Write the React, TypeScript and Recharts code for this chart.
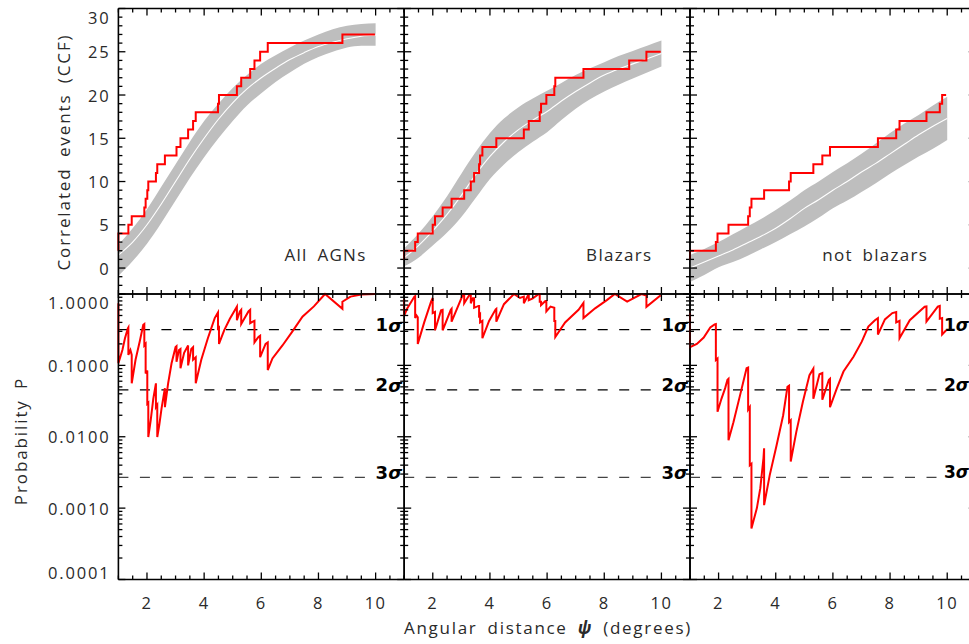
import React from 'react';
import { ComposedChart, Line, Area, XAxis, YAxis, ReferenceLine } from 'recharts';

// ---------------- data ----------------
const bandX = [1, 1.5, 2, 2.5, 3, 3.5, 4, 4.5, 5, 5.5, 6, 6.5, 7, 7.5, 8, 8.5, 9, 9.5, 10];

const agnUpper = [2.7, 4.6, 6.8, 9.4, 12.0, 14.6, 17.0, 19.0, 20.8, 22.3, 23.6, 24.6, 25.5, 26.3, 27.0, 27.6, 28.0, 28.2, 28.3];
const agnMedian = [1.5, 3.0, 5.0, 7.4, 10.0, 12.6, 15.0, 17.2, 19.1, 20.7, 22.0, 23.1, 24.1, 24.9, 25.6, 26.1, 26.5, 26.8, 26.9];
const agnLower = [-0.9, 0.8, 2.8, 5.2, 7.8, 10.4, 12.8, 15.0, 17.0, 18.8, 20.2, 21.5, 22.6, 23.6, 24.4, 25.0, 25.5, 25.7, 25.7];

const blzUpper = [2.3, 4.0, 6.0, 8.3, 10.9, 13.4, 15.6, 17.3, 18.6, 19.6, 20.5, 21.4, 22.3, 23.1, 23.8, 24.5, 25.1, 25.7, 26.3];
const blzMedian = [1.2, 2.6, 4.3, 6.2, 8.4, 10.8, 12.9, 14.6, 16.0, 17.1, 18.1, 19.3, 20.4, 21.4, 22.3, 23.0, 23.6, 24.2, 24.8];
const blzLower = [0.2, 1.2, 2.6, 4.1, 5.9, 8.1, 10.3, 12.0, 13.4, 14.6, 15.7, 17.1, 18.4, 19.5, 20.4, 21.2, 21.9, 22.6, 23.3];

const nbzUpper = [1.5, 2.2, 3.0, 3.9, 4.8, 5.7, 6.7, 7.8, 9.0, 10.0, 11.1, 12.1, 13.2, 14.4, 15.6, 16.7, 17.7, 18.8, 19.8];
const nbzMedian = [0.0, 0.7, 1.4, 2.1, 2.9, 3.7, 4.6, 5.7, 6.9, 7.9, 9.0, 10.0, 11.1, 12.1, 13.2, 14.3, 15.4, 16.4, 17.3];
const nbzLower = [-1.6, -0.8, 0.1, 0.7, 1.4, 2.2, 3.0, 3.9, 4.8, 5.8, 6.9, 7.8, 8.8, 9.8, 10.9, 11.9, 12.9, 13.8, 14.8];

// observed CCF steps: [x, events]
const agnSteps: [number, number][] = [
  [1, 2], [1, 4], [1.349, 5], [1.466, 6], [1.907, 7], [1.953, 8], [2.011, 9], [2.046, 10],
  [2.313, 11], [2.36, 12], [2.627, 13], [3.033, 14], [3.172, 15], [3.439, 16], [3.613, 17],
  [3.706, 18], [4.484, 19], [4.519, 20], [5.146, 21], [5.297, 22], [5.611, 23], [5.761, 24],
  [5.959, 25], [6.226, 26], [8.838, 27], [9.976, 27],
];
const blzSteps: [number, number][] = [
  [1, 1], [1, 2], [1.383, 3], [1.475, 4], [1.997, 5], [2.078, 6], [2.345, 7], [2.658, 8],
  [3.099, 9], [3.33, 10], [3.446, 11], [3.62, 12], [3.655, 13], [3.736, 14], [4.223, 15],
  [5.186, 16], [5.359, 17], [5.742, 18], [5.788, 19], [5.974, 20], [6.252, 21], [6.287, 22],
  [7.272, 23], [8.872, 24], [9.475, 25], [9.974, 25],
];
const nbzSteps: [number, number][] = [
  [1, 1], [1, 2], [1.905, 3], [1.963, 4], [2.347, 5], [3.034, 6], [3.092, 7], [3.15, 8],
  [3.593, 9], [4.466, 10], [4.524, 11], [5.316, 12], [5.63, 13], [5.898, 14], [7.575, 15],
  [8.215, 16], [8.331, 17], [9.274, 18], [9.74, 19], [9.822, 20], [9.962, 20],
];

// chance probability: [x, P]
const agnProb: [number, number][] = [
  [1.0, 0.74], [1.0, 0.107], [1.14, 0.164], [1.23, 0.24], [1.33, 0.33], [1.349, 0.34], [1.349, 0.14],
  [1.42, 0.164], [1.466, 0.14], [1.466, 0.056], [1.6, 0.12], [1.75, 0.22], [1.87, 0.37], [1.907, 0.38],
  [1.907, 0.19], [1.953, 0.2], [1.953, 0.077], [2.011, 0.085], [2.011, 0.029], [2.046, 0.03], [2.046, 0.0099],
  [2.13, 0.017], [2.22, 0.034], [2.313, 0.056], [2.313, 0.026], [2.36, 0.028], [2.36, 0.0099], [2.43, 0.0146],
  [2.51, 0.025], [2.627, 0.048], [2.627, 0.026], [2.74, 0.056], [2.86, 0.107], [3.0, 0.18], [3.033, 0.185],
  [3.033, 0.112], [3.12, 0.164], [3.172, 0.17], [3.172, 0.091], [3.3, 0.15], [3.439, 0.19], [3.439, 0.1],
  [3.55, 0.17], [3.613, 0.18], [3.613, 0.12], [3.706, 0.13], [3.706, 0.056], [3.9, 0.12], [4.13, 0.24],
  [4.37, 0.46], [4.484, 0.55], [4.484, 0.33], [4.519, 0.34], [4.519, 0.2], [4.7, 0.31], [4.9, 0.45],
  [5.146, 0.665], [5.146, 0.43], [5.25, 0.57], [5.297, 0.6], [5.297, 0.38], [5.55, 0.57], [5.611, 0.6],
  [5.611, 0.39], [5.7, 0.41], [5.761, 0.42], [5.761, 0.21], [5.9, 0.25], [5.959, 0.26], [5.959, 0.13],
  [6.15, 0.2], [6.226, 0.21], [6.226, 0.086], [6.39, 0.125], [6.74, 0.19], [7.09, 0.3], [7.44, 0.48],
  [7.84, 0.67], [8.23, 1.0], [8.838, 0.62], [8.838, 0.78], [9.12, 0.92], [9.5, 0.98], [9.976, 1.0],
];
const blzProb: [number, number][] = [
  [1.0, 0.85], [1.0, 0.5], [1.1, 0.62], [1.36, 0.92], [1.383, 0.93], [1.383, 0.46], [1.43, 0.5],
  [1.475, 0.47], [1.475, 0.2], [1.7, 0.4], [1.94, 0.78], [1.997, 0.88], [1.997, 0.54], [2.078, 0.56],
  [2.078, 0.31], [2.29, 0.59], [2.345, 0.6], [2.345, 0.31], [2.63, 0.6], [2.658, 0.62], [2.658, 0.41],
  [3.05, 0.97], [3.099, 0.98], [3.099, 0.74], [3.28, 0.97], [3.33, 0.97], [3.33, 0.74], [3.4, 0.87],
  [3.446, 0.87], [3.446, 0.64], [3.6, 0.68], [3.62, 0.68], [3.62, 0.5], [3.655, 0.52], [3.655, 0.4],
  [3.736, 0.42], [3.736, 0.24], [3.97, 0.42], [4.2, 0.61], [4.223, 0.62], [4.223, 0.41], [4.49, 0.72],
  [4.84, 1.0], [5.05, 0.88], [5.186, 0.92], [5.186, 0.74], [5.359, 1.0], [5.359, 0.82], [5.5, 0.87],
  [5.71, 1.0], [5.742, 1.0], [5.742, 0.78], [5.788, 0.78], [5.788, 0.7], [5.94, 0.8], [5.974, 0.8],
  [5.974, 0.57], [6.12, 0.665], [6.252, 0.64], [6.252, 0.42], [6.287, 0.42], [6.287, 0.25], [6.63, 0.4],
  [7.1, 0.6], [7.272, 0.75], [7.272, 0.46], [7.68, 0.63], [8.09, 0.82], [8.37, 1.0], [8.8, 0.78],
  [9.3, 1.0], [9.475, 0.95], [9.475, 0.66], [9.974, 0.96],
];
const nbzProb: [number, number][] = [
  [1.0, 0.54], [1.0, 0.18], [1.24, 0.2], [1.48, 0.245], [1.71, 0.34], [1.86, 0.376], [1.905, 0.38],
  [1.905, 0.119], [1.963, 0.125], [1.963, 0.0224], [2.1, 0.034], [2.23, 0.048], [2.31, 0.063],
  [2.347, 0.065], [2.347, 0.0089], [2.52, 0.016], [2.75, 0.038], [2.98, 0.091], [3.034, 0.093],
  [3.034, 0.024], [3.092, 0.026], [3.092, 0.004], [3.15, 0.0042], [3.15, 0.00052], [3.34, 0.001],
  [3.46, 0.0019], [3.57, 0.005], [3.593, 0.0069], [3.593, 0.0011], [3.79, 0.0029], [4.03, 0.0076],
  [4.26, 0.02], [4.41, 0.05], [4.466, 0.052], [4.466, 0.016], [4.524, 0.017], [4.524, 0.0045],
  [4.72, 0.0117], [4.95, 0.031], [5.18, 0.073], [5.316, 0.09], [5.316, 0.034], [5.53, 0.075],
  [5.63, 0.078], [5.63, 0.033], [5.86, 0.063], [5.898, 0.065], [5.898, 0.026], [6.14, 0.048],
  [6.37, 0.082], [6.72, 0.132], [7.01, 0.215], [7.24, 0.35], [7.47, 0.43], [7.575, 0.46], [7.575, 0.27],
  [7.82, 0.44], [8.08, 0.54], [8.215, 0.56], [8.215, 0.4], [8.331, 0.42], [8.331, 0.24], [8.69, 0.43],
  [9.21, 0.665], [9.274, 0.67], [9.274, 0.41], [9.67, 0.665], [9.74, 0.68], [9.74, 0.45], [9.822, 0.46],
  [9.822, 0.27], [9.962, 0.31],
];

const xMajorTicks = [2, 4, 6, 8, 10];
const xMinorStep = 0.5;
const ccfMajorTicks = [0, 5, 10, 15, 20, 25, 30];
const probMajorTicks = [0.0001, 0.001, 0.01, 0.1, 1];
const sigmaLevels = [0.3173, 0.0455, 0.0027];
const sigmaNames = ['1', '2', '3'];
const panelNames = ['All AGNs', 'Blazars', 'not blazars'];
const panelNameShift = [-9, -9, -19];

// ---------------- layout ----------------
const CW = 1000;
const CH = 644;
const PL = [118.4, 404.2, 690.0];
const PW = 285.8;
const PH = 285.5;
const TOP_Y = 8.5;
const BOT_Y = 294;
const FONT = "'Open Sans', 'DejaVu Sans', sans-serif";
const TXT = '#2a2a2a';
const TW = 400;

const xDomain: [number, number] = [1, 11];
const ccfDomain: [number, number] = [-3, 30];
const probDomain: [number, number] = [0.0001, 1];

const xTicks: number[] = [];
for (let v = xDomain[0]; v <= xDomain[1] + 1e-9; v += xMinorStep) xTicks.push(Math.round(v * 10) / 10);
const ccfTicks: number[] = [];
for (let v = ccfDomain[0]; v <= ccfDomain[1]; v += 1) ccfTicks.push(v);
const probTicks: number[] = [];
probMajorTicks.forEach((d, i) => {
  probTicks.push(d);
  if (i < probMajorTicks.length - 1) for (let m = 2; m <= 9; m++) probTicks.push(+(d * m).toPrecision(3));
});

const toBand = (lo: number[], mid: number[], hi: number[]) =>
  bandX.map((x, i) => ({ x, range: [lo[i], hi[i]], mid: mid[i] }));
const toRows = (pairs: [number, number][]) => pairs.map(([x, y]) => ({ x, y }));

const bands = [toBand(agnLower, agnMedian, agnUpper), toBand(blzLower, blzMedian, blzUpper), toBand(nbzLower, nbzMedian, nbzUpper)];
const steps = [toRows(agnSteps), toRows(blzSteps), toRows(nbzSteps)];
const probs = [toRows(agnProb), toRows(blzProb), toRows(nbzProb)];

const isNear = (a: number, b: number) => Math.abs(a - b) < 1e-6 * Math.max(1, Math.abs(b));

const XTick = (p: any) => {
  const { x, y, payload, showLabel } = p;
  const v = payload.value;
  const major = xMajorTicks.some((t) => isNear(t, v));
  const len = major ? 7 : 4;
  return (
    <g>
      <line x1={x} x2={x} y1={y} y2={y - len} stroke="#000" strokeWidth={1.3} />
      <line x1={x} x2={x} y1={y - PH} y2={y - PH + len} stroke="#000" strokeWidth={1.3} />
      {showLabel && major ? (
        <text x={x} y={y + 22.5} textAnchor="middle" dominantBaseline="central" fontFamily={FONT}
          fontWeight={TW} fontSize={16.5} fill={TXT} letterSpacing={1.5}>
          {v}
        </text>
      ) : null}
    </g>
  );
};

const YTick = (p: any) => {
  const { x, y, payload, showLabel, majors, fmt } = p;
  const v = payload.value;
  const major = majors.some((t: number) => isNear(t, v));
  const len = major ? 7 : 4;
  const top = p.plotTop;
  let ly = y;
  if (Math.abs(y - top) < 1.5) ly = y + 8.5;
  if (Math.abs(y - (top + PH)) < 1.5) ly = y - 7;
  return (
    <g>
      <line x1={x} x2={x + len} y1={y} y2={y} stroke="#000" strokeWidth={1.3} />
      <line x1={x + PW} x2={x + PW - len} y1={y} y2={y} stroke="#000" strokeWidth={1.3} />
      {showLabel && major ? (
        <text x={x - 8} y={ly} textAnchor="end" dominantBaseline="central" fontFamily={FONT}
          fontWeight={TW} fontSize={16.5} fill={TXT} letterSpacing={1.8}>
          {fmt(v)}
        </text>
      ) : null}
    </g>
  );
};

const axisLine = { stroke: '#000', strokeWidth: 1.6 };

function CcfPanel({ i }: { i: number }) {
  const left = PL[i];
  return (
    <div style={{ position: 'absolute', left: 0, top: 0 }}>
      <ComposedChart width={CW} height={CH}
        margin={{ left: left - 1, top: TOP_Y, right: CW - left - PW, bottom: CH - TOP_Y - PH - 1 }}>
        <XAxis type="number" dataKey="x" domain={xDomain} ticks={xTicks} interval={0} height={1}
          tickSize={0} tickMargin={0} axisLine={axisLine} tickLine={false}
          tick={(p: any) => <XTick {...p} showLabel={false} />} />
        <YAxis type="number" domain={ccfDomain} ticks={ccfTicks} interval={0} width={1}
          tickSize={0} tickMargin={0} axisLine={axisLine} tickLine={false}
          tick={(p: any) => (
            <YTick {...p} showLabel={i === 0} majors={ccfMajorTicks} fmt={(v: number) => String(v)} plotTop={TOP_Y} />
          )} />
        <Area data={bands[i]} dataKey="range" type="monotone" stroke="none" fill="#bebebe"
          fillOpacity={1} isAnimationActive={false} />
        <Line data={bands[i]} dataKey="mid" type="monotone" stroke="#ffffff" strokeWidth={1.1}
          dot={false} isAnimationActive={false} />
        <Line data={steps[i]} dataKey="y" type="stepAfter" stroke="#ff0000" strokeWidth={2}
          dot={false} isAnimationActive={false} />
        <ReferenceLine y={ccfDomain[1]} stroke="#000" strokeWidth={1.6} />
        <ReferenceLine x={xDomain[1]} stroke="#000" strokeWidth={1.6} />
      </ComposedChart>
    </div>
  );
}

function ProbPanel({ i }: { i: number }) {
  const left = PL[i];
  return (
    <div style={{ position: 'absolute', left: 0, top: 0 }}>
      <ComposedChart width={CW} height={CH}
        margin={{ left: left - 1, top: BOT_Y, right: CW - left - PW, bottom: CH - BOT_Y - PH - 1 }}>
        <XAxis type="number" dataKey="x" domain={xDomain} ticks={xTicks} interval={0} height={1}
          tickSize={0} tickMargin={0} axisLine={axisLine} tickLine={false}
          tick={(p: any) => <XTick {...p} showLabel={true} />} />
        <YAxis type="number" scale="log" domain={probDomain} ticks={probTicks} interval={0} width={1}
          tickSize={0} tickMargin={0} axisLine={axisLine} tickLine={false}
          tick={(p: any) => (
            <YTick {...p} showLabel={i === 0} majors={probMajorTicks} fmt={(v: number) => v.toFixed(4)} plotTop={BOT_Y} />
          )} />
        {sigmaLevels.map((lvl, k) => (
          <ReferenceLine key={k} segment={[{ x: 1, y: lvl }, { x: 9.8, y: lvl }]}
            stroke={k === 2 ? '#444' : '#000'} strokeWidth={1.3} strokeDasharray="10 11.5" />
        ))}
        <Line data={probs[i]} dataKey="y" type="linear" stroke="#ff0000" strokeWidth={2}
          dot={false} isAnimationActive={false} />
        <ReferenceLine y={probDomain[1]} stroke="#000" strokeWidth={1.6} />
        <ReferenceLine x={xDomain[1]} stroke="#000" strokeWidth={1.6} />
      </ComposedChart>
    </div>
  );
}

const xPx = (i: number, v: number) => PL[i] + ((v - xDomain[0]) / (xDomain[1] - xDomain[0])) * PW;
const yProbPx = (p: number) => BOT_Y + (-Math.log10(p) / 4) * PH;

export default function App() {
  return (
    <div style={{ position: 'absolute', left: 0, top: 0, width: 969, height: 644, overflow: 'hidden', background: '#fff' }}>
      {[0, 1, 2].map((i) => <CcfPanel key={'c' + i} i={i} />)}
      {[0, 1, 2].map((i) => <ProbPanel key={'p' + i} i={i} />)}
      <svg width={969} height={644} style={{ position: 'absolute', left: 0, top: 0, pointerEvents: 'none' }}>
        {panelNames.map((n, i) => (
          <text key={n} x={xPx(i, 10) + panelNameShift[i]} y={254} textAnchor="end" dominantBaseline="central"
            fontFamily={FONT} fontWeight={TW} fontSize={17} fill={TXT} letterSpacing={1.3} wordSpacing={4}>
            {n}
          </text>
        ))}
        {[0, 1, 2].map((i) =>
          sigmaLevels.map((lvl, k) => (
            <text key={i + '-' + k} x={Math.min(xPx(i, 10), 944)} y={yProbPx(lvl) - 5} dominantBaseline="central"
              fontFamily="'DejaVu Sans', sans-serif" fontWeight="bold" fontSize={i === 2 ? 17 : 18} fill="#000">
              {sigmaNames[k]}
              <tspan fontStyle="italic">σ</tspan>
            </text>
          ))
        )}
        <text x={63} y={152} transform="rotate(-90 63 152)" textAnchor="middle" dominantBaseline="central"
          fontFamily={FONT} fontWeight={TW} fontSize={17} fill={TXT} letterSpacing={1.9} wordSpacing={4}>
          Correlated events (CCF)
        </text>
        <text x={20} y={441} transform="rotate(-90 20 441)" textAnchor="middle" dominantBaseline="central"
          fontFamily={FONT} fontWeight={TW} fontSize={17} fill={TXT} letterSpacing={1.9} wordSpacing={4}>
          Probability P
        </text>
        <text x={548} y={627} textAnchor="middle" dominantBaseline="central"
          fontFamily={FONT} fontWeight={TW} fontSize={17} fill={TXT} letterSpacing={1.7} wordSpacing={4}>
          Angular distance <tspan fontStyle="italic" fontWeight="bold">ψ</tspan> (degrees)
        </text>
      </svg>
    </div>
  );
}
